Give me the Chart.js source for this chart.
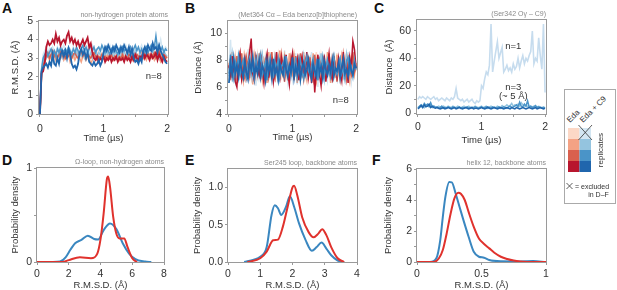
<!DOCTYPE html>
<html>
<head>
<meta charset="utf-8">
<script src="https://cdn.jsdelivr.net/npm/chart.js@4.4.1/dist/chart.umd.min.js"></script>
<style>
  html, body { margin: 0; padding: 0; background: #fff; overflow: hidden; }
  body { width: 617px; height: 290px; position: relative; font-family: "Liberation Sans", Arial, sans-serif; }
  canvas { position: absolute; }
  .letra { position: absolute; font-weight: bold; font-size: 14px; line-height: 1; color: #111; }
  svg text { font-family: "Liberation Sans", Arial, sans-serif; fill: #333; }
</style>
</head>
<body>
<div class="letra" style="left:2px;top:1px">A</div>
<div class="letra" style="left:185px;top:1px">B</div>
<div class="letra" style="left:374px;top:1px">C</div>
<div class="letra" style="left:2px;top:153px">D</div>
<div class="letra" style="left:185px;top:153px">E</div>
<div class="letra" style="left:372px;top:153px">F</div>

<canvas id="cA"></canvas>
<canvas id="cB"></canvas>
<canvas id="cC"></canvas>
<canvas id="cD"></canvas>
<canvas id="cE"></canvas>
<canvas id="cF"></canvas>

<svg width="54" height="118" style="position:absolute;left:563px;top:88px">
  <rect x="1.5" y="1.5" width="51" height="114" fill="#fff" stroke="#aaa"/>
  <text transform="translate(7,35) rotate(-45)" font-size="8">Eda</text>
  <text transform="translate(20,35) rotate(-45)" font-size="8">Eda + C9</text>
  <rect x="5" y="40" width="11.5" height="11" fill="#fcd8c6"/>
  <rect x="5" y="51" width="11.5" height="11" fill="#f4a284"/>
  <rect x="5" y="62" width="11.5" height="11" fill="#d9604e"/>
  <rect x="5" y="73" width="11.5" height="11" fill="#b8162e"/>
  <rect x="16.5" y="40" width="11.5" height="11" fill="#d3e6f2"/>
  <rect x="16.5" y="51" width="11.5" height="11" fill="#94c4df"/>
  <rect x="16.5" y="62" width="11.5" height="11" fill="#4a94c8"/>
  <rect x="16.5" y="73" width="11.5" height="11" fill="#2066ad"/>
  <line x1="15.5" y1="37" x2="29" y2="52" stroke="#333" stroke-width="0.8"/>
  <line x1="15.5" y1="52" x2="29" y2="37" stroke="#333" stroke-width="0.8"/>
  <text transform="translate(40,62) rotate(-90)" font-size="8" text-anchor="middle">replicates</text>
  <line x1="3.5" y1="95" x2="9.5" y2="101" stroke="#333" stroke-width="0.8"/>
  <line x1="3.5" y1="101" x2="9.5" y2="95" stroke="#333" stroke-width="0.8"/>
  <text x="12" y="101" font-size="7">= excluded</text>
  <text x="35.5" y="109" font-size="7" text-anchor="middle">in D–F</text>
</svg>

<script>
// ─── Cores das réplicas ───────────────────────────────────────────────────────
const CORES_EDA = ['#fcd8c6', '#f4a284', '#d9604e', '#b8162e'];
const CORES_C9  = ['#d3e6f2', '#94c4df', '#4a94c8', '#2066ad'];
const VERMELHO  = '#e0322d';
const AZUL      = '#3a87c0';

// ─── A: R.M.S.D. (Å) vs tempo, 0–2 µs ─────────────────────────────────────────
const aEda1 = [0, 2.1, 2.6, 2.9, 3.1, 3.3, 3.0, 3.2, 3.4, 3.1,
  3.3, 3.0, 3.2, 3.5, 3.1, 3.3, 3.0, 3.2, 3.4, 3.1,
  3.3, 3.0, 3.2, 3.1, 3.4, 3.2, 3.0, 3.3, 3.1, 3.2,
  3.4, 3.0, 3.2, 3.3, 3.1, 3.0, 3.2, 3.4, 3.1, 3.3,
  3.0, 3.2, 3.1, 3.3, 3.4, 3.2, 3.0, 3.3, 3.1, 3.2,
  3.4, 3.1, 3.3, 3.0, 3.2, 3.1, 3.3, 3.5, 3.2, 3.0,
  3.3, 3.1, 3.2, 3.4, 3.1, 3.3, 3.0, 3.2, 3.4, 3.1,
  3.3, 3.2, 3.0, 3.3, 3.1, 3.4, 3.2, 3.3, 3.1, 3.2,
  3.0];
const aEda2 = [0, 2.1, 2.5, 2.8, 3.0, 3.2, 2.9, 3.1, 3.0, 3.2,
  2.9, 3.1, 3.3, 3.0, 3.2, 2.9, 3.1, 3.0, 3.2, 2.8,
  3.0, 3.2, 2.9, 3.1, 3.3, 3.0, 2.8, 3.1, 3.2, 2.9,
  3.1, 3.0, 2.7, 2.9, 3.1, 3.0, 3.2, 2.9, 3.1, 3.0,
  3.2, 2.9, 3.1, 3.3, 3.0, 3.2, 2.9, 3.1, 3.0, 3.2,
  2.9, 3.1, 3.3, 3.0, 3.2, 2.9, 3.1, 3.0, 3.2, 3.1,
  2.9, 3.2, 3.0, 3.1, 3.3, 3.0, 3.2, 2.9, 3.1, 3.2,
  3.0, 3.2, 2.9, 3.1, 3.3, 3.0, 2.8, 3.0, 3.2, 3.0,
  3.1];
const aEda3 = [0, 2.2, 2.6, 2.9, 3.1, 3.3, 3.0, 3.2, 3.4, 3.1,
  3.3, 3.0, 3.2, 3.4, 3.1, 3.3, 3.0, 3.2, 3.1, 3.3,
  3.0, 3.2, 3.3, 3.1, 3.0, 3.2, 3.4, 3.1, 3.3, 3.0,
  3.2, 3.1, 3.0, 3.2, 3.3, 3.1, 2.9, 3.1, 3.0, 3.2,
  3.0, 3.1, 2.9, 3.1, 3.0, 3.2, 2.9, 3.1, 3.0, 2.9,
  3.1, 3.0, 3.2, 2.9, 3.1, 3.0, 3.2, 3.1, 2.9, 3.1,
  3.0, 3.2, 3.1, 2.9, 3.1, 3.0, 3.2, 3.1, 3.3, 3.0,
  3.2, 3.1, 3.3, 3.0, 3.2, 3.4, 3.1, 3.0, 3.2, 3.1,
  3.0];
const aEda4 = [0, 2.2, 2.3, 2.7, 3.6, 3.9, 3.7, 3.8, 4.0, 3.8,
  4.3, 3.9, 4.1, 3.7, 3.9, 4.0, 3.8, 4.2, 4.4, 3.9,
  4.1, 3.8, 4.0, 3.7, 3.9, 3.6, 3.8, 4.0, 3.7, 3.9,
  4.1, 3.6, 3.8, 3.3, 3.0, 2.9, 3.1, 2.8, 3.0, 2.9,
  3.1, 2.8, 3.0, 2.9, 3.1, 2.8, 3.0, 2.9, 3.1, 2.8,
  3.0, 2.9, 3.0, 2.8, 3.1, 2.9, 3.0, 2.8, 3.1, 2.9,
  3.2, 3.0, 2.9, 3.1, 3.0, 3.3, 3.0, 3.2, 3.1, 2.9,
  3.2, 3.0, 3.1, 3.3, 2.9, 3.2, 3.0, 2.8, 3.1, 2.9,
  2.8];
const aC91 = [0, 2.5, 3.2, 3.4, 3.6, 3.3, 3.5, 3.2, 3.6, 3.4,
  3.3, 3.6, 3.4, 3.2, 3.5, 3.7, 3.4, 3.3, 3.6, 3.5,
  3.3, 3.6, 3.4, 3.5, 3.2, 3.4, 3.6, 3.3, 3.5, 3.4,
  3.6, 3.3, 3.5, 3.7, 3.4, 3.2, 3.5, 3.6, 3.3, 3.5,
  3.4, 3.6, 3.3, 3.5, 3.7, 3.4, 3.6, 3.3, 3.5, 3.4,
  3.6, 3.3, 3.5, 3.4, 3.7, 3.5, 3.3, 3.6, 3.4, 3.5,
  3.3, 3.6, 3.4, 3.5, 3.7, 3.4, 3.3, 3.6, 3.5, 3.4,
  3.6, 3.3, 3.5, 3.7, 3.4, 3.6, 4.0, 3.5, 3.3, 3.6,
  3.5];
const aC92 = [0, 2.3, 2.9, 3.1, 3.0, 3.3, 3.1, 3.2, 2.9, 3.3,
  3.1, 3.0, 3.4, 3.2, 3.0, 3.3, 3.1, 3.4, 3.2, 3.0,
  3.3, 3.1, 3.2, 3.4, 3.0, 3.2, 3.1, 3.3, 3.0, 3.2,
  3.4, 3.1, 3.3, 3.0, 3.2, 3.4, 3.1, 3.3, 3.2, 3.0,
  3.3, 3.1, 3.4, 3.2, 3.0, 3.3, 3.1, 3.2, 3.4, 3.1,
  3.3, 3.0, 3.2, 3.4, 3.1, 3.3, 3.2, 3.0, 3.3, 3.1,
  3.4, 3.2, 3.0, 3.3, 3.1, 3.2, 3.4, 3.1, 3.3, 3.0,
  3.2, 3.4, 3.1, 3.3, 3.2, 3.0, 3.3, 3.1, 3.4, 3.2,
  3.1];
const aC93 = [0, 2.4, 3.0, 3.2, 3.4, 3.1, 3.3, 3.5, 3.2, 3.4,
  3.1, 3.5, 3.3, 3.6, 3.2, 3.4, 3.5, 3.3, 3.6, 3.4,
  3.2, 3.5, 3.3, 3.6, 3.4, 3.2, 3.5, 3.7, 3.4, 3.6,
  3.3, 3.5, 3.7, 3.4, 3.6, 3.3, 3.5, 3.6, 3.4, 3.7,
  3.5, 3.3, 3.6, 3.4, 3.2, 3.5, 3.3, 3.6, 3.4, 3.2,
  3.5, 3.3, 3.6, 3.4, 3.5, 3.2, 3.4, 3.6, 3.3, 3.5,
  3.7, 3.4, 3.6, 3.3, 3.5, 3.2, 3.4, 3.6, 3.3, 3.5,
  3.7, 3.4, 3.6, 4.2, 3.5, 3.7, 3.4, 3.6, 3.3, 3.5,
  3.4];
const aC94 = [0, 2.3, 2.5, 2.6, 2.7, 2.5, 2.8, 2.6, 3.2, 2.7,
  2.6, 3.0, 2.7, 3.2, 3.4, 3.1, 3.4, 3.0, 3.5, 3.2,
  2.7, 2.5, 2.6, 2.4, 2.7, 3.3, 3.5, 3.2, 3.4, 3.0,
  3.3, 2.8, 2.7, 2.6, 2.8, 2.6, 2.7, 2.9, 2.6, 2.8,
  3.3, 3.6, 3.4, 3.7, 3.5, 3.3, 3.6, 3.4, 3.7, 3.5,
  3.3, 3.6, 3.4, 3.7, 3.5, 3.3, 3.6, 3.2, 3.5, 3.0,
  2.8, 2.9, 2.7, 3.0, 2.8, 3.4, 3.6, 3.3, 3.7, 3.5,
  3.4, 3.8, 3.5, 3.6, 3.3, 3.7, 3.4, 3.2, 3.0, 2.8,
  2.7];

// ─── B: distância Met364 Cα – benzo[b]tiofeno (Å) ─────────────────────────────
const bEda1 = [7.5, 8.2, 6.9, 7.7, 8.4, 7.1, 6.8, 8.0, 7.4, 8.3,
  7.0, 7.8, 8.5, 6.7, 7.6, 8.1, 7.2, 6.9, 8.4, 7.5,
  8.0, 7.1, 6.8, 8.3, 7.7, 7.0, 8.6, 7.3, 6.9, 8.1,
  7.6, 8.4, 7.0, 6.7, 8.2, 7.5, 7.9, 6.8, 8.3, 7.2,
  7.0, 8.5, 7.4, 6.9, 8.1, 7.7, 7.1, 8.4, 6.8, 7.6,
  8.2, 7.3, 6.9, 8.0, 7.5, 8.6, 7.1, 6.8, 8.3, 7.4,
  7.9, 6.9, 8.4, 7.2, 7.7, 8.1, 6.8, 7.5, 8.5, 7.0,
  7.6, 8.2, 7.1, 6.9, 8.3, 7.4, 8.0, 6.8, 7.7, 8.4,
  7.3];
const bEda2 = [7.8, 6.5, 8.6, 7.2, 8.0, 6.3, 7.6, 8.7, 7.0, 6.4,
  8.3, 7.5, 6.6, 8.8, 7.1, 6.2, 8.4, 7.7, 6.9, 8.5,
  7.3, 6.5, 8.1, 7.8, 6.3, 8.6, 7.0, 7.9, 6.6, 8.2,
  7.4, 6.4, 8.7, 7.1, 6.8, 8.3, 7.6, 6.5, 8.5, 7.2,
  6.9, 8.4, 7.5, 6.3, 8.2, 7.8, 6.7, 8.6, 7.1, 6.5,
  8.3, 7.4, 6.8, 8.5, 7.0, 6.4, 8.1, 7.7, 6.6, 8.4,
  7.2, 6.9, 8.6, 7.5, 6.3, 8.2, 7.8, 6.7, 8.4, 7.1,
  6.5, 8.3, 7.6, 6.8, 8.5, 7.0, 6.4, 8.2, 7.7, 6.9,
  7.8];
const bEda3 = [7.4, 8.1, 6.7, 7.9, 6.5, 8.3, 7.2, 6.9, 8.5, 7.0,
  6.6, 8.2, 7.5, 6.8, 8.0, 7.3, 6.4, 8.4, 7.1, 6.9,
  8.3, 7.6, 6.5, 7.8, 8.2, 6.7, 7.4, 8.6, 7.0, 6.6,
  8.1, 7.2, 6.8, 8.4, 7.5, 6.4, 8.0, 7.3, 6.9, 8.2,
  7.6, 6.5, 8.3, 7.1, 6.8, 8.5, 7.4, 6.6, 8.1, 7.7,
  6.9, 8.2, 7.0, 6.5, 8.4, 7.3, 6.8, 8.0, 7.5, 6.6,
  8.3, 7.1, 6.9, 8.5, 7.4, 6.7, 8.2, 7.6, 6.4, 8.1,
  7.2, 6.8, 8.4, 7.5, 6.6, 8.0, 7.3, 6.9, 8.6, 7.1,
  7.5];
const bEda4 = [7.6, 6.9, 8.3, 7.1, 6.4, 6.0, 7.8, 8.5, 6.6, 7.3,
  8.1, 6.8, 7.5, 8.6, 9.6, 7.0, 6.5, 8.2, 7.4, 6.9,
  8.4, 7.2, 6.3, 7.9, 8.5, 6.7, 7.6, 8.0, 6.4, 7.3,
  8.6, 7.0, 6.6, 8.2, 7.5, 6.8, 8.4, 7.1, 6.2, 7.8,
  8.5, 6.9, 7.4, 8.1, 6.5, 7.7, 8.3, 6.8, 7.2, 8.6,
  6.7, 7.5, 6.3, 8.0, 5.6, 7.3, 8.4, 6.9, 6.1, 7.8,
  8.2, 6.4, 7.6, 8.5, 7.0, 6.6, 8.3, 7.4, 6.8, 8.1,
  7.2, 6.5, 8.6, 7.0, 7.7, 6.3, 8.2, 7.5, 9.4, 8.8,
  7.4];
const bC91 = [7.2, 9.5, 6.4, 8.3, 7.0, 6.2, 8.6, 7.4, 6.8, 8.1,
  7.5, 6.3, 8.8, 7.1, 6.6, 8.2, 7.8, 6.1, 7.4, 8.5,
  6.9, 7.7, 6.2, 8.4, 7.3, 6.7, 8.0, 7.5, 6.4, 8.6,
  7.1, 6.5, 8.3, 7.6, 6.9, 8.7, 7.2, 6.3, 7.9, 8.2,
  6.6, 7.4, 8.5, 6.2, 7.8, 7.0, 8.3, 6.5, 7.6, 8.1,
  6.8, 7.3, 8.6, 6.4, 7.9, 7.1, 6.0, 8.2, 7.5, 6.7,
  8.4, 7.2, 6.5, 8.0, 7.6, 6.3, 8.5, 7.0, 6.8, 8.2,
  7.4, 6.6, 8.3, 7.1, 6.9, 8.6, 7.3, 6.4, 8.0, 8.8,
  7.2];
const bC92 = [6.8, 7.6, 8.5, 7.0, 6.4, 7.8, 7.2, 8.3, 6.7, 7.5,
  8.0, 6.9, 7.4, 8.6, 7.1, 6.6, 7.9, 7.3, 8.2, 6.8,
  7.6, 8.4, 7.0, 6.5, 7.7, 8.1, 7.2, 6.7, 7.9, 8.3,
  7.0, 6.4, 7.5, 8.2, 7.3, 6.8, 8.0, 7.1, 6.6, 7.8,
  8.4, 7.2, 6.9, 7.6, 8.1, 6.5, 7.4, 8.3, 7.0, 6.7,
  7.9, 8.2, 7.1, 6.6, 7.7, 8.0, 6.9, 7.4, 8.5, 7.2,
  6.5, 7.8, 8.1, 7.0, 6.8, 7.6, 8.3, 7.2, 6.6, 7.9,
  8.2, 7.1, 6.7, 7.5, 8.4, 7.0, 6.9, 7.8, 8.1, 7.3,
  7.6];
const bC93 = [7.0, 8.4, 7.2, 6.6, 7.9, 7.4, 8.3, 6.9, 7.6, 8.0,
  7.1, 6.7, 7.8, 8.2, 7.0, 7.5, 6.6, 8.1, 7.3, 7.7,
  8.4, 6.9, 7.4, 7.9, 6.5, 7.6, 8.2, 7.1, 6.8, 7.9,
  7.3, 8.1, 6.7, 7.5, 7.8, 6.9, 8.3, 7.2, 7.6, 6.8,
  7.7, 7.0, 8.2, 6.7, 7.4, 8.0, 7.1, 6.6, 7.8, 8.3,
  7.2, 6.9, 7.6, 8.1, 7.0, 7.7, 6.5, 7.9, 7.3, 8.2,
  6.8, 7.5, 8.0, 7.1, 6.7, 7.8, 8.3, 7.2, 6.9, 7.6,
  8.1, 7.0, 7.4, 6.6, 7.9, 8.2, 7.1, 7.5, 6.8, 8.0,
  7.3];
const bC94 = [6.3, 7.8, 6.9, 8.1, 7.0, 7.6, 6.8, 8.0, 7.2, 6.7,
  7.9, 7.1, 6.6, 7.8, 7.3, 8.2, 6.9, 7.5, 7.0, 8.0,
  6.8, 7.6, 7.2, 6.5, 7.9, 7.1, 7.7, 6.7, 8.1, 7.0,
  7.4, 6.6, 7.8, 7.2, 6.9, 8.0, 7.3, 6.8, 7.6, 7.1,
  8.2, 6.7, 7.5, 7.0, 7.9, 6.6, 7.4, 7.8, 6.9, 7.3,
  8.0, 7.1, 6.6, 7.7, 7.2, 6.8, 8.1, 7.0, 7.5, 6.7,
  7.9, 7.3, 6.9, 7.6, 7.1, 8.0, 6.8, 7.4, 7.2, 7.8,
  6.7, 7.5, 8.1, 7.0, 7.3, 6.8, 7.9, 7.2, 6.9, 7.7,
  7.4];

// ─── C: distância Ser342 Oγ – C9 (Å), só Eda + C9 ──────────────────────────────
const cC91 = [10, 12, 11, 12, 11, 10, 12, 11, 10, 11,
  12, 10, 11, 9, 10, 11, 10, 9, 11, 10,
  9, 11, 10, 12, 18, 11, 10, 9, 10, 8,
  9, 10, 8, 9, 10, 8, 7, 9, 8, 9,
  20, 18, 25, 30, 28, 35, 65, 30, 38, 45,
  52, 40, 44, 48, 30, 32, 35, 31, 33, 30,
  36, 32, 34, 40, 33, 38, 42, 36, 40, 38,
  42, 45, 60, 36, 40, 38, 55, 42, 32, 65,
  15];
const cC92 = [4, 5, 4.5, 5.5, 4, 6, 5, 4.5, 5.5, 4,
  5, 4.5, 4, 5, 4.5, 4, 5, 4.5, 4, 5,
  4.5, 4, 5, 4.5, 4, 5, 4.5, 4, 4.5, 5,
  4, 4.5, 5, 4, 4.5, 4, 5, 4.5, 4, 4.5,
  5, 4, 4.5, 5, 4, 4.5, 5, 4, 4.5, 4,
  5, 4.5, 4, 5.5, 4.5, 5, 6, 5, 5.5, 7,
  5, 6, 5.5, 6.5, 5, 7.5, 6, 5, 5.5, 5,
  4.5, 5, 4.5, 5, 4, 4.5, 5, 4.5, 4, 4.5,
  4];
const cC93 = [3.5, 5, 6, 4.5, 7, 5.5, 6.5, 5, 7.5, 4.5,
  5, 4, 4.5, 3.5, 4, 5, 3.5, 4, 3.5, 4.5,
  4, 3.5, 4.5, 4, 3.5, 4, 4.5, 3.5, 4, 3.5,
  4, 4.5, 3.5, 4, 3.5, 4, 4.5, 4, 3.5, 4,
  4.5, 3.5, 4, 4.5, 3.5, 4, 3.5, 4.5, 4, 3.5,
  4, 4.5, 3.5, 4, 4.5, 4, 3.5, 4.5, 5, 4,
  4.5, 5, 6, 4.5, 8, 5, 4.5, 6.5, 5, 9,
  4.5, 5, 4, 4.5, 5.5, 4, 4.5, 4, 3.5, 4,
  3.5];
const cC94 = [3, 4, 5.5, 4, 6, 4.5, 5, 6.5, 4, 5,
  4, 3.5, 4, 3.5, 3, 3.5, 4, 3, 3.5, 4,
  3.5, 3, 3.5, 4, 3, 3.5, 4, 3.5, 3, 3.5,
  4, 3.5, 3, 3.5, 4, 3, 3.5, 3.5, 3, 3.5,
  4, 3.5, 3, 3.5, 4.5, 3.5, 3, 3.5, 4, 3.5,
  3, 3.5, 4, 3.5, 3, 3.5, 4, 3.5, 3, 4,
  3.5, 3, 4, 3.5, 3, 3.5, 4, 3.5, 3, 3.5,
  4, 3.5, 3, 3.5, 4, 3, 3.5, 4, 3.5, 3,
  3.5];

// ─── D–F: densidades de probabilidade ─────────────────────────────────────────
const dAzulX = [0, 1.0, 1.45, 1.8, 2.1, 2.4, 2.8, 3.2, 3.6, 3.85, 4.2, 4.6, 5.0, 5.4, 5.8, 6.2, 6.8, 7.2];
const dAzulY = [0, 0, 0.005, 0.05, 0.13, 0.2, 0.235, 0.28, 0.245, 0.24, 0.34, 0.41, 0.35, 0.2, 0.09, 0.03, 0.005, 0];
const dVermX = [0, 1.6, 2.0, 2.7, 3.4, 3.8, 4.0, 4.2, 4.4, 4.48, 4.6, 4.8, 5.0, 5.2, 5.5, 5.7, 6.0, 6.3];
const dVermY = [0, 0, 0.02, 0.05, 0.04, 0.09, 0.24, 0.52, 0.88, 0.91, 0.8, 0.48, 0.3, 0.25, 0.25, 0.16, 0.04, 0];

const eAzulX = [0.5, 0.8, 1.0, 1.2, 1.35, 1.45, 1.55, 1.65, 1.8, 1.92, 2.05, 2.2, 2.4, 2.6, 2.75, 2.9, 3.05, 3.2, 3.4, 3.6];
const eAzulY = [0, 0.03, 0.07, 0.2, 0.63, 0.76, 0.72, 0.63, 0.74, 0.88, 0.74, 0.52, 0.3, 0.15, 0.2, 0.26, 0.18, 0.09, 0.02, 0];
const eVermX = [0.6, 1.0, 1.2, 1.4, 1.55, 1.7, 1.85, 2.0, 2.05, 2.15, 2.3, 2.5, 2.65, 2.8, 2.92, 3.05, 3.2, 3.4, 3.6];
const eVermY = [0, 0.05, 0.14, 0.29, 0.3, 0.47, 0.74, 1.0, 1.02, 0.89, 0.6, 0.4, 0.33, 0.38, 0.44, 0.36, 0.2, 0.05, 0];

const fAzulX = [0, 0.1, 0.15, 0.18, 0.2, 0.22, 0.25, 0.27, 0.3, 0.33, 0.36, 0.4, 0.44, 0.48, 0.52, 0.56, 0.65, 0.8, 0.9, 1.0];
const fAzulY = [0, 0, 0.24, 1.4, 2.9, 4.2, 5.16, 5.14, 4.4, 3.55, 2.7, 1.63, 0.66, 0.34, 0.28, 0.13, 0.05, 0.04, 0.06, 0];
const fVermX = [0, 0.13, 0.17, 0.2, 0.23, 0.26, 0.29, 0.32, 0.34, 0.37, 0.4, 0.44, 0.48, 0.52, 0.56, 0.6, 0.65, 0.7, 0.75, 0.8, 0.9, 1.0];
const fVermY = [0, 0, 0.24, 0.77, 1.84, 3.1, 4.1, 4.47, 4.4, 4.0, 3.23, 2.27, 1.52, 1.16, 0.88, 0.6, 0.34, 0.19, 0.09, 0.04, 0, 0];

// ─── Marcas dos eixos ─────────────────────────────────────────────────────────
const tempoTicks   = [0, 0.5, 1, 1.5, 2];
const tempoRotulos = ['0', '', '1', '', '2'];
const aYTicks = [0, 1, 2, 3, 4, 5];
const aYRotulos = ['0', '1', '2', '3', '4', '5'];
const bYTicks = [4, 5, 6, 7, 8, 9, 10];
const bYRotulos = ['4', '', '6', '', '8', '', '10'];
const cYTicks = [0, 10, 20, 30, 40, 50, 60];
const cYRotulos = ['0', '', '20', '', '40', '', '60'];
const dXTicks = [0, 2, 4, 6, 8];
const dXRotulos = ['0', '2', '4', '6', '8'];
const dYTicks = [0, 0.5, 1];
const dYRotulos = ['0', '', '1'];
const eXTicks = [0, 1, 2, 3, 4];
const eXRotulos = ['0', '1', '2', '3', '4'];
const eYTicks = [0, 0.5, 1];
const eYRotulos = ['0.0', '0.5', '1.0'];
const fXTicks = [0, 0.5, 1];
const fXRotulos = ['0', '0.5', '1'];
const fYTicks = [0, 1, 2, 3, 4, 5, 6];
const fYRotulos = ['0', '', '2', '', '4', '', '6'];

// ─── Helpers ──────────────────────────────────────────────────────────────────
Chart.defaults.font.family = '"Liberation Sans", Arial, sans-serif';
const MEIA_LINHA = 9.5 * 1.2 / 2;

function serieTempo(vals, cor, largura) {
  const passo = 2 / (vals.length - 1);
  return {
    data: vals.map((v, i) => ({ x: i * passo, y: v })),
    borderColor: cor, borderWidth: largura ?? 1.5,
    pointRadius: 0, tension: 0, fill: false,
  };
}

function curva(xs, ys, cor) {
  return {
    data: xs.map((x, i) => ({ x, y: ys[i] })),
    borderColor: cor, borderWidth: 2,
    pointRadius: 0, cubicInterpolationMode: 'monotone', fill: false,
  };
}

function eixo(e, pos, tamanho, pad) {
  return {
    type: 'linear', position: pos, min: e.min, max: e.max,
    afterFit(s) {
      if (pos === 'bottom') { s.height = tamanho; s.paddingLeft = 0; s.paddingRight = 0; }
      else { s.width = tamanho; s.paddingTop = 0; s.paddingBottom = 0; }
    },
    afterBuildTicks(s) { s.ticks = e.ticks.map(v => ({ value: v })); },
    ticks: {
      autoSkip: false, maxRotation: 0, padding: pad, color: '#333',
      font: { size: 10.5 },
      callback: (v, i) => e.rotulos[i] ?? '',
    },
    grid: { drawOnChartArea: false, drawTicks: true, tickLength: 3, color: '#999', lineWidth: 1 },
    border: { display: false },
    title: { display: true, text: e.titulo, color: '#333', font: { size: 9.5 }, padding: 0 },
  };
}

// moldura cinza + subtítulo + anotações
const moldura = {
  id: 'moldura',
  afterDraw(chart, args, opts) {
    const { ctx, chartArea: a } = chart;
    ctx.save();
    ctx.strokeStyle = '#9a9a9a';
    ctx.lineWidth = 1;
    ctx.strokeRect(Math.round(a.left) - 0.5, Math.round(a.top) - 0.5,
                   Math.round(a.right - a.left) + 1, Math.round(a.bottom - a.top) + 1);
    ctx.fillStyle = '#8a8a8a';
    ctx.font = '7px "Liberation Sans", Arial, sans-serif';
    ctx.textAlign = 'right';
    ctx.textBaseline = 'alphabetic';
    ctx.fillText(opts.sub, a.right, a.top - 4);
    ctx.fillStyle = '#333';
    ctx.font = '9.5px "Liberation Sans", Arial, sans-serif';
    ctx.textAlign = 'center';
    ctx.textBaseline = 'middle';
    (opts.notas || []).forEach(n => {
      ctx.fillText(n.txt, chart.scales.x.getPixelForValue(n.x), chart.scales.y.getPixelForValue(n.y));
    });
    ctx.restore();
  },
};

function painel(id, p) {
  const larguraY = Math.round(p.yOff + MEIA_LINHA);
  const alturaX  = Math.round(p.xOff + MEIA_LINHA);
  const topo = 24, dir = 6;
  const cv = document.getElementById(id);
  cv.width  = larguraY + (p.caixa.r - p.caixa.l) + dir;
  cv.height = topo + (p.caixa.b - p.caixa.t) + alturaX;
  cv.style.left = (p.caixa.l - larguraY) + 'px';
  cv.style.top  = (p.caixa.t - topo) + 'px';
  new Chart(cv, {
    type: 'line',
    data: { datasets: p.series },
    options: {
      responsive: false, animation: false, devicePixelRatio: 1,
      layout: { padding: { left: 0, top: topo, right: dir, bottom: 0 } },
      scales: {
        x: eixo(p.x, 'bottom', alturaX, p.xPad),
        y: eixo(p.y, 'left', larguraY, p.yPad),
      },
      plugins: {
        legend: { display: false }, tooltip: { enabled: false },
        moldura: { sub: p.sub, notas: p.notas },
      },
    },
    plugins: [moldura],
  });
}

// ─── Painéis ──────────────────────────────────────────────────────────────────
painel('cA', {
  caixa: { l: 39, t: 21, r: 168, b: 114 }, yOff: 23, xOff: 24, xPad: 6, yPad: 3,
  x: { min: -0.015, max: 2.015, ticks: tempoTicks, rotulos: tempoRotulos, titulo: 'Time (µs)' },
  y: { min: 0, max: 5, ticks: aYTicks, rotulos: aYRotulos, titulo: 'R.M.S.D. (Å)' },
  sub: 'non-hydrogen protein atoms',
  notas: [{ x: 1.79, y: 2.0, txt: 'n=8' }],
  series: [
    serieTempo(aC94, CORES_C9[3], 1.8), serieTempo(aEda4, CORES_EDA[3], 1.8),
    serieTempo(aC93, CORES_C9[2]), serieTempo(aEda3, CORES_EDA[2]),
    serieTempo(aC92, CORES_C9[1]), serieTempo(aEda2, CORES_EDA[1]),
    serieTempo(aC91, CORES_C9[0]), serieTempo(aEda1, CORES_EDA[0]),
  ],
});

painel('cB', {
  caixa: { l: 228, t: 21, r: 357, b: 114 }, yOff: 29, xOff: 23.5, xPad: 6, yPad: 3,
  x: { min: -0.015, max: 2.015, ticks: tempoTicks, rotulos: tempoRotulos, titulo: 'Time (µs)' },
  y: { min: 4, max: 10.9, ticks: bYTicks, rotulos: bYRotulos, titulo: 'Distance (Å)' },
  sub: '(Met364 Cα – Eda benzo[b]thiophene)',
  notas: [{ x: 1.76, y: 5.0, txt: 'n=8' }],
  series: [
    serieTempo(bC94, CORES_C9[3], 1.8), serieTempo(bC93, CORES_C9[2]),
    serieTempo(bEda4, CORES_EDA[3]), serieTempo(bEda3, CORES_EDA[2]),
    serieTempo(bC92, CORES_C9[1]), serieTempo(bEda2, CORES_EDA[1]),
    serieTempo(bC91, CORES_C9[0]), serieTempo(bEda1, CORES_EDA[0]),
  ],
});

painel('cC', {
  caixa: { l: 417, t: 20, r: 546, b: 114 }, yOff: 27, xOff: 26, xPad: 4, yPad: 3,
  x: { min: -0.015, max: 2.015, ticks: tempoTicks, rotulos: tempoRotulos, titulo: 'Time (µs)' },
  y: { min: -0.7, max: 68, ticks: cYTicks, rotulos: cYRotulos, titulo: 'Distance  (Å)' },
  sub: '(Ser342 Oγ – C9)',
  notas: [
    { x: 1.5, y: 49, txt: 'n=1' },
    { x: 1.5, y: 19, txt: 'n=3' },
    { x: 1.5, y: 12, txt: '(~ 5 Å)' },
  ],
  series: [
    serieTempo(cC94, CORES_C9[3]), serieTempo(cC93, CORES_C9[2]),
    serieTempo(cC92, CORES_C9[1]), serieTempo(cC91, '#c6dcee', 1.6),
  ],
});

painel('cD', {
  caixa: { l: 37, t: 168, r: 164, b: 262 }, yOff: 21, xOff: 23, xPad: 3, yPad: 2,
  x: { min: 0, max: 8, ticks: dXTicks, rotulos: dXRotulos, titulo: 'R.M.S.D. (Å)' },
  y: { min: 0, max: 1, ticks: dYTicks, rotulos: dYRotulos, titulo: 'Probability density' },
  sub: 'Ω-loop, non-hydrogen atoms',
  series: [curva(dVermX, dVermY, VERMELHO), curva(dAzulX, dAzulY, AZUL)],
});

painel('cE', {
  caixa: { l: 228, t: 169, r: 357, b: 262 }, yOff: 30, xOff: 23, xPad: 3, yPad: 2,
  x: { min: 0, max: 4, ticks: eXTicks, rotulos: eXRotulos, titulo: 'R.M.S.D. (Å)' },
  y: { min: 0, max: 1.245, ticks: eYTicks, rotulos: eYRotulos, titulo: 'Probability density' },
  sub: 'Ser245 loop, backbone atoms',
  series: [curva(eVermX, eVermY, VERMELHO), curva(eAzulX, eAzulY, AZUL)],
});

painel('cF', {
  caixa: { l: 417, t: 169, r: 546, b: 262 }, yOff: 28, xOff: 23, xPad: 3, yPad: 2,
  x: { min: 0, max: 1, ticks: fXTicks, rotulos: fXRotulos, titulo: 'R.M.S.D. (Å)' },
  y: { min: 0, max: 6, ticks: fYTicks, rotulos: fYRotulos, titulo: 'Probability density' },
  sub: 'helix 12, backbone atoms',
  series: [curva(fVermX, fVermY, VERMELHO), curva(fAzulX, fAzulY, AZUL)],
});
</script>
</body>
</html>
